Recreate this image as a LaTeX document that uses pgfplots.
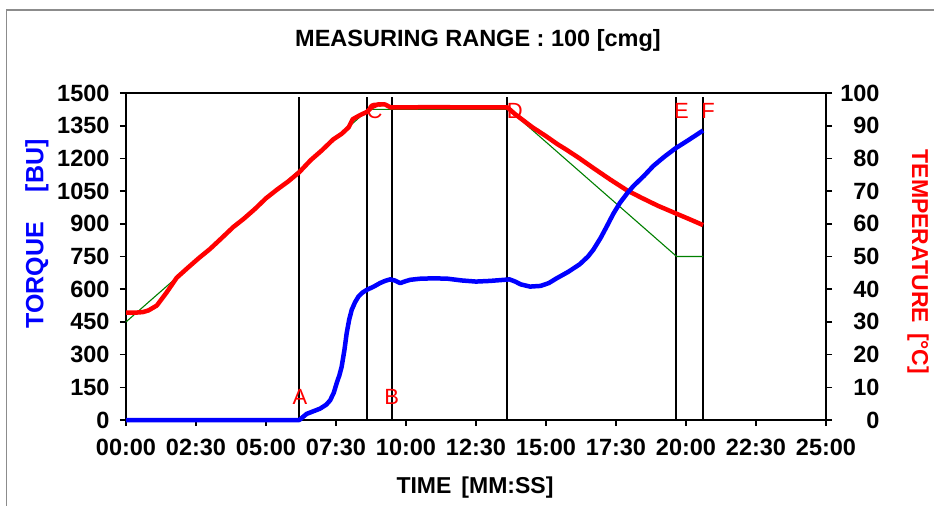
\documentclass[border=0pt]{standalone}
\usepackage{fontspec}
\setmainfont{Liberation Sans}
\usepackage{pgfplots}
\pgfplotsset{compat=1.18}
\definecolor{tblue}{RGB}{0,0,255}
\definecolor{tred}{RGB}{255,0,0}
\definecolor{tgreen}{RGB}{0,128,0}
\pgfplotsset{
  base/.style={at={(126bp,-420bp)}, anchor=south west, scale only axis,
    width=700bp, height=327bp, xmin=0, xmax=25, clip=false},
  tl/.style={font=\bfseries\fontsize{23.5bp}{26bp}\selectfont},
}
\begin{document}
\begin{tikzpicture}
\useasboundingbox (0,0) rectangle (934bp,-506bp);
\fill[white] (0,0) rectangle (934bp,-506bp);
\draw[black!45, line width=1.5bp] (6.5bp,-506bp) -- (6.5bp,-10bp) -- (934bp,-10bp);
% torque axis with frame
\begin{axis}[base, ymin=0, ymax=1500,
  tick pos=left, tick align=outside, major tick length=6bp,
  xtick={0,2.5,5,7.5,10,12.5,15,17.5,20,22.5,25},
  xticklabels={00:00,02:30,05:00,07:30,10:00,12:30,15:00,17:30,20:00,22:30,25:00},
  ytick={0,150,300,450,600,750,900,1050,1200,1350,1500},
  tick label style={tl},
  xticklabel style={yshift=-10bp},
  yticklabel style={xshift=-7bp},
  /pgf/number format/assume math mode=true,
  /pgf/number format/1000 sep={},
  scaled y ticks=false,
  axis line style={line width=1.6bp},
  tick style={line width=1.6bp, black},
]
\addplot[black, line width=1.8bp] coordinates {(6.19,0) (6.19,1480)};
\addplot[black, line width=1.8bp] coordinates {(8.62,0) (8.62,1480)};
\addplot[black, line width=1.8bp] coordinates {(9.49,0) (9.49,1480)};
\addplot[black, line width=1.8bp] coordinates {(13.62,0) (13.62,1480)};
\addplot[black, line width=1.8bp] coordinates {(19.63,0) (19.63,1480)};
\addplot[black, line width=1.8bp] coordinates {(20.61,0) (20.61,1480)};
\end{axis}
% temperature axis
\begin{axis}[base, ymin=0, ymax=100,
  axis y line*=right, axis x line=none,
  tick align=outside, major tick length=6bp,
  ytick={0,10,20,30,40,50,60,70,80,90,100},
  tick label style={tl},
  yticklabel style={text width=40bp, align=right, xshift=4bp},
  /pgf/number format/assume math mode=true,
  axis line style={line width=1.6bp},
  tick style={line width=1.6bp, black},
]
\addplot[tgreen, line width=1.1bp] coordinates {
(0,30) (8.667,95) (13.667,95) (19.667,50) (20.61,50)};
\addplot[tred, line width=4.5bp, line join=round] coordinates {
(0,32.8) (0.3,32.8) (0.6,33.0) (0.8,33.5) (1.1,35) (1.45,39) (1.81,43.5)
(2.2,46.5) (2.6,49.5) (3.0,52.3) (3.4,55.5) (3.83,59) (4.2,61.5) (4.6,64.5)
(5.0,67.8) (5.4,70.5) (5.8,73) (6.19,75.8) (6.6,79.5) (7.0,82.5) (7.4,85.8)
(7.7,87.5) (7.95,89.5) (8.1,92) (8.35,93.2) (8.6,94.2) (8.8,95.8) (9.0,96.5)
(9.25,96.5) (9.45,95.6) (10,95.6) (11,95.7) (12,95.6) (13,95.6) (13.62,95.6)
(13.9,93.5) (14.07,92.4) (14.5,89.6) (15.0,86.8) (15.4,84.4) (15.74,82.6)
(16.2,80) (16.7,77) (17.3,73.5) (17.88,70.3) (18.4,68) (19.0,65.5)
(19.63,63.2) (20.1,61.5) (20.61,59.6)};
\end{axis}
% torque curve on top
\begin{axis}[base, ymin=0, ymax=1500, hide axis]
\addplot[tblue, line width=4.5bp, line join=round] coordinates {
(0,0) (6.19,0) (6.45,28) (6.93,52) (7.15,70) (7.29,90) (7.42,125) (7.52,167)
(7.62,205) (7.70,243) (7.80,320) (7.88,397) (7.97,460) (8.06,505) (8.18,540)
(8.30,566) (8.45,585) (8.6,597) (8.85,612) (9.07,628) (9.25,638) (9.43,645)
(9.6,640) (9.79,628) (9.95,635) (10.14,643) (10.5,648) (11,650) (11.5,648)
(12,640) (12.5,635) (13,638) (13.4,642) (13.7,645) (13.9,635) (14.1,622)
(14.43,612) (14.8,615) (15.1,628) (15.38,650) (15.8,680) (16.21,715)
(16.5,750) (16.69,781) (16.95,835) (17.17,888) (17.4,945) (17.64,996)
(17.9,1040) (18.12,1073) (18.5,1120) (18.83,1165) (19.2,1205) (19.61,1245)
(20.1,1285) (20.61,1328)};
\path[every node/.style={text=tred, font=\fontsize{22bp}{24bp}\selectfont, inner sep=0pt}]
  (axis cs:6.21,105) node {A}
  (axis cs:9.49,105) node {B}
  (axis cs:8.875,1420) node {C}
  (axis cs:13.89,1420) node {D}
  (axis cs:19.84,1420) node {E}
  (axis cs:20.79,1420) node {F};
\end{axis}
\node[font=\bfseries\fontsize{23.5bp}{26bp}\selectfont] at (478bp,-40bp) {MEASURING RANGE : 100 [cmg]};
\node[font=\bfseries\fontsize{23bp}{26bp}\selectfont] at (475bp,-488bp) {TIME\hspace{10bp}[MM:SS]};
\node[rotate=90, text=tblue, font=\bfseries\fontsize{25bp}{27bp}\selectfont] at (37bp,-234bp) {TORQUE\hspace{30bp}[BU]};
\node[rotate=-90, text=tred, font=\bfseries\fontsize{23bp}{26bp}\selectfont] at (918bp,-262bp) {TEMPERATURE\hspace{10bp}[°C]};
\end{tikzpicture}
\end{document}
